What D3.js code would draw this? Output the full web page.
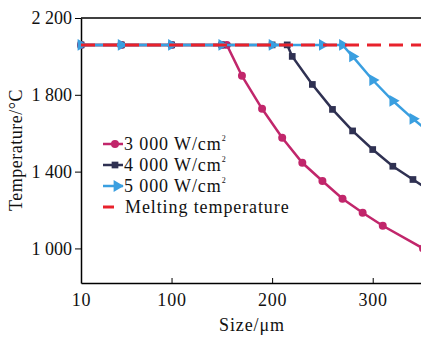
<!DOCTYPE html>
<html>
<head>
<meta charset="utf-8">
<script src="https://cdn.jsdelivr.net/npm/d3@7"></script>
<style>
  body { margin: 0; background: #fff; }
  svg { font-family: "Liberation Serif", "DejaVu Serif", serif; }
</style>
</head>
<body>
<svg id="chart" width="421" height="338"></svg>
<script>
// sizes in µm, temperatures in °C
var size3000 = [10, 50, 100, 150, 155, 170, 190, 210, 230, 250, 270, 290, 310, 350];
var temp3000 = [2060, 2060, 2060, 2060, 2060, 1899, 1727, 1576, 1446, 1351, 1259, 1186, 1118, 1000];

var size4000 = [10, 50, 100, 150, 200, 215, 220, 240, 260, 280, 300, 320, 340, 360];
var temp4000 = [2060, 2060, 2060, 2060, 2060, 2060, 2000, 1854, 1724, 1612, 1515, 1428, 1359, 1290];

var size5000 = [10, 50, 100, 150, 200, 250, 270, 280, 300, 320, 340, 360];
var temp5000 = [2060, 2060, 2060, 2060, 2060, 2060, 2060, 2000, 1877, 1769, 1675, 1590];

var meltingTemp = 2060;

var xTicks = [10, 100, 200, 300];
var yTicks = [1000, 1400, 1800, 2200];

var seriesNames = ["3 000 W/cm", "4 000 W/cm", "5 000 W/cm"];
var seriesColors = ["#c1266b", "#2f3152", "#3a9fe0"];
var meltColor = "#e8222c";

var svg = d3.select("#chart");
var margin = { top: 18, left: 81 };
var width = 421 - margin.left;
var height = 283 - margin.top;

var g = svg.append("g").attr("transform", "translate(" + margin.left + "," + margin.top + ")");

var x = d3.scaleLinear().domain([10, 348]).range([0, width]);
var y = d3.scaleLinear().domain([820, 2200]).range([height, 0]);

g.append("clipPath").attr("id", "clip")
  .append("rect").attr("x", -6).attr("y", -6).attr("width", width + 6).attr("height", height + 12);

var fmt = function (d) { return d3.format(",")(d).replace(",", " "); };

// x axis, ticks inward
var xAxis = g.append("g")
  .attr("transform", "translate(0," + height + ")")
  .call(d3.axisBottom(x).tickValues(xTicks).tickSizeInner(-5).tickSizeOuter(0).tickPadding(10))
  .attr("font-family", null).attr("font-size", null);
xAxis.select(".domain").attr("stroke-width", 1.5);
xAxis.selectAll("text").style("font-size", "18px").style("letter-spacing", "0.8px").attr("fill", "#111");

// y axis, ticks outward
var yAxis = g.append("g")
  .call(d3.axisLeft(y).tickValues(yTicks).tickSizeInner(6).tickSizeOuter(0).tickPadding(3).tickFormat(fmt))
  .attr("font-family", null).attr("font-size", null);
yAxis.select(".domain").attr("stroke-width", 1.5);
yAxis.selectAll("text").style("font-size", "18px").attr("fill", "#111");

// top frame
g.append("line").attr("x1", 0).attr("x2", width).attr("y1", 0).attr("y2", 0)
  .attr("stroke", "#000").attr("stroke-width", 1.5);

var line = d3.line()
  .x(function (d) { return x(d[0]); })
  .y(function (d) { return y(d[1]); });

var plot = g.append("g").attr("clip-path", "url(#clip)");

var data = [
  d3.zip(size3000, temp3000),
  d3.zip(size4000, temp4000),
  d3.zip(size5000, temp5000)
];
var symbols = [d3.symbolCircle, d3.symbolSquare, d3.symbolTriangle];
var symSizes = [50, 45, 60];

data.forEach(function (pts, i) {
  plot.append("path")
    .datum(pts)
    .attr("fill", "none")
    .attr("stroke", seriesColors[i])
    .attr("stroke-width", 2.5)
    .attr("d", line);

  plot.selectAll(".m" + i)
    .data(pts)
    .enter().append("path")
    .attr("class", "m" + i)
    .attr("transform", function (d) {
      return "translate(" + x(d[0]) + "," + y(d[1]) + ")" + (i == 2 ? " rotate(90)" : "");
    })
    .attr("d", d3.symbol().type(symbols[i]).size(symSizes[i]))
    .attr("fill", seriesColors[i]);
});

// melting temperature
plot.append("line")
  .attr("x1", 0).attr("x2", width)
  .attr("y1", y(meltingTemp)).attr("y2", y(meltingTemp))
  .attr("stroke", meltColor)
  .attr("stroke-width", 3)
  .attr("stroke-dasharray", "14,8");

// legend
var legend = svg.append("g").attr("transform", "translate(103,144)");
seriesNames.forEach(function (name, i) {
  var row = legend.append("g").attr("transform", "translate(0," + i * 21 + ")");
  row.append("line").attr("x1", 0).attr("x2", 20).attr("y1", 0).attr("y2", 0)
    .attr("stroke", seriesColors[i]).attr("stroke-width", 2.5);
  row.append("path")
    .attr("transform", "translate(" + (i == 2 ? 14 : 12) + ",0)" + (i == 2 ? " rotate(90)" : ""))
    .attr("d", d3.symbol().type(symbols[i]).size(symSizes[i]))
    .attr("fill", seriesColors[i]);
  var t = row.append("text").attr("x", 21).attr("y", 6)
    .style("font-size", "18px").style("letter-spacing", "0.9px").attr("fill", "#111").text(name);
  t.append("tspan").attr("dy", -9).style("font-size", "8px").text("2");
});
var meltRow = legend.append("g").attr("transform", "translate(0," + 3 * 21 + ")");
meltRow.append("line").attr("x1", 0).attr("x2", 11).attr("y1", 0).attr("y2", 0)
  .attr("stroke", meltColor).attr("stroke-width", 3);
meltRow.append("text").attr("x", 22).attr("y", 6)
  .style("font-size", "18px").style("letter-spacing", "0.9px").attr("fill", "#111").text("Melting temperature");

// axis titles
svg.append("text")
  .attr("x", 252).attr("y", 331)
  .attr("text-anchor", "middle")
  .style("font-size", "18px").style("letter-spacing", "0.9px").attr("fill", "#111")
  .text("Size/\u03bcm");

svg.append("text")
  .attr("transform", "translate(22,150) rotate(-90)")
  .attr("text-anchor", "middle")
  .style("font-size", "18px").style("letter-spacing", "0.5px").attr("fill", "#111")
  .text("Temperature/\u00b0C");
</script>
</body>
</html>
